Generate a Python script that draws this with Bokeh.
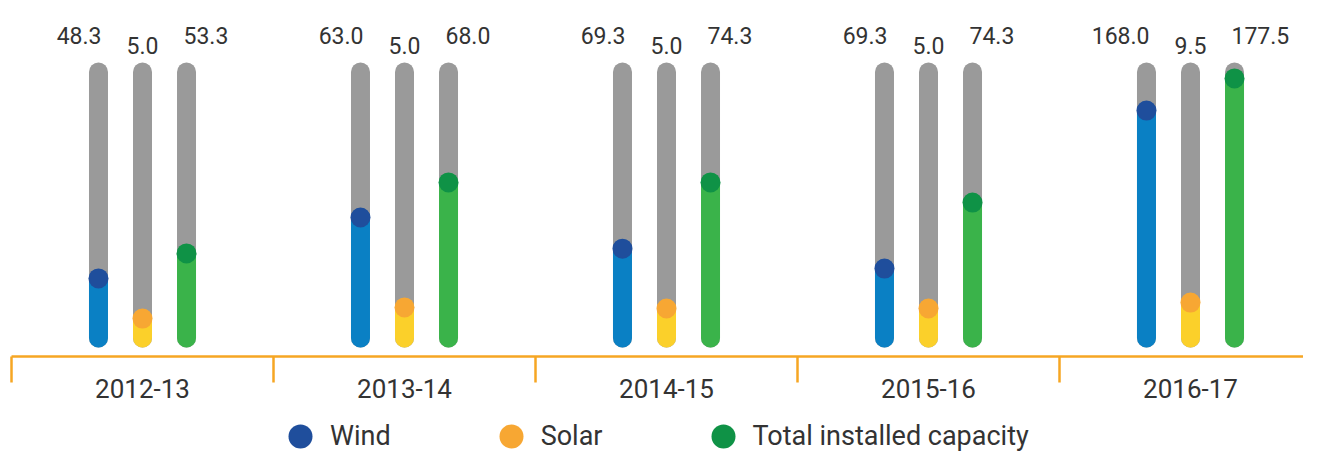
from bokeh.plotting import figure
from bokeh.models import Range1d, Legend, LegendItem, ColumnDataSource
from bokeh.core.properties import value
from bokeh.embed import file_html
from bokeh.resources import INLINE
import numpy as np

# ---------------- data ----------------
years = ["2012-13", "2013-14", "2014-15", "2015-16", "2016-17"]
wind_values = [48.3, 63.0, 69.3, 69.3, 168.0]
solar_values = [5.0, 5.0, 5.0, 5.0, 9.5]
total_values = [53.3, 68.0, 74.3, 74.3, 177.5]
# fill level of each bar, in % of its grey track (as drawn in the infographic)
wind_level = [22.4, 45.3, 33.6, 26.1, 85.5]
solar_level = [7.3, 11.5, 11.1, 11.1, 13.3]
total_level = [31.8, 58.5, 58.5, 50.9, 97.6]
series_names = ["Wind", "Solar", "Total installed capacity"]

# ---------------- style ----------------
FONT = "Roboto"
TXT = "#333333"
GREY = "#9a9a9a"
ORANGE = "#f6a623"
FILL = ["#0a80c4", "#fbd02a", "#3ab34a"]
DOT = ["#1f4e9c", "#f7a733", "#0f9246"]
BAR_W = 19
OFF = 0.168          # bar offset inside a group (x units)
PX = 2.66            # pixels per % of track
AXIS_Y = -18.5 / PX  # orange category line, just under the bars
TICK_Y = -44.5 / PX  # bottom of the group separators

W, H = 1303, 453
p = figure(width=W, height=H, output_backend="svg", toolbar_location=None,
           x_range=Range1d(-0.542, 4.4313), y_range=Range1d(-43.42, 126.88),
           min_border=0, x_axis_type=None, y_axis_type=None)
p.outline_line_color = None
p.background_fill_color = "white"
p.border_fill_color = "white"

n = len(years)
idx = np.arange(n, dtype=float)
xpos = [idx - OFF, idx, idx + OFF]
levels = [wind_level, solar_level, total_level]
vals = [wind_values, solar_values, total_values]

# grey tracks (0 .. 100 % of the track)
all_x = np.concatenate(xpos)
track = ColumnDataSource(dict(x=all_x, y0=np.zeros_like(all_x),
                              y1=np.full_like(all_x, 100.0)))
p.segment(x0="x", y0="y0", x1="x", y1="y1", source=track, line_color=GREY,
          line_width=BAR_W, line_cap="round")

dot_renderers = []
for k in range(3):
    src = ColumnDataSource(dict(x=xpos[k], y0=np.zeros(n), lvl=levels[k],
                                top=np.full(n, 100.0),
                                lab=[f"{v:.1f}" for v in vals[k]]))
    p.segment(x0="x", y0="y0", x1="x", y1="lvl", source=src,
              line_color=FILL[k], line_width=BAR_W, line_cap="round")
    r = p.scatter(x="x", y="lvl", source=src, size=BAR_W + 1,
                  fill_color=DOT[k], line_color=None)
    dot_renderers.append(r)
    if k == 0:
        align, xo, yo = "right", 3, -37
    elif k == 1:
        align, xo, yo = "center", 0, -27
    else:
        align, xo, yo = "left", -3, -37
    p.text(x="x", y="top", text="lab", source=src, text_align=align,
           text_baseline="middle", x_offset=xo, y_offset=yo,
           text_font=value(FONT), text_font_size="23px", text_color=TXT)

# category "axis": orange line, separators between groups, year labels
bounds = np.arange(n + 1, dtype=float) - 0.5
p.segment(x0=[bounds[0]], y0=[AXIS_Y], x1=[bounds[-1]], y1=[AXIS_Y],
          line_color=ORANGE, line_width=2.5)
p.segment(x0=bounds, y0=np.full(n + 1, AXIS_Y), x1=bounds,
          y1=np.full(n + 1, TICK_Y), line_color=ORANGE, line_width=2.5)
cat = ColumnDataSource(dict(x=idx, y=np.zeros(n), t=years))
p.text(x="x", y="y", text="t", source=cat, text_align="center",
       text_baseline="middle", y_offset=50.5, text_font=value(FONT),
       text_font_size="26px", text_color=TXT)

legend = Legend(items=[LegendItem(label=nm, renderers=[r])
                       for nm, r in zip(series_names, dot_renderers)],
                location=(270, -13), orientation="horizontal",
                glyph_width=60, glyph_height=60, label_standoff=0,
                spacing=90, padding=0, margin=0,
                border_line_color=None, background_fill_alpha=0,
                label_text_font=FONT, label_text_font_size="27px",
                label_text_color=TXT)
p.add_layout(legend)

open("out.html", "w").write(file_html(p, INLINE))
